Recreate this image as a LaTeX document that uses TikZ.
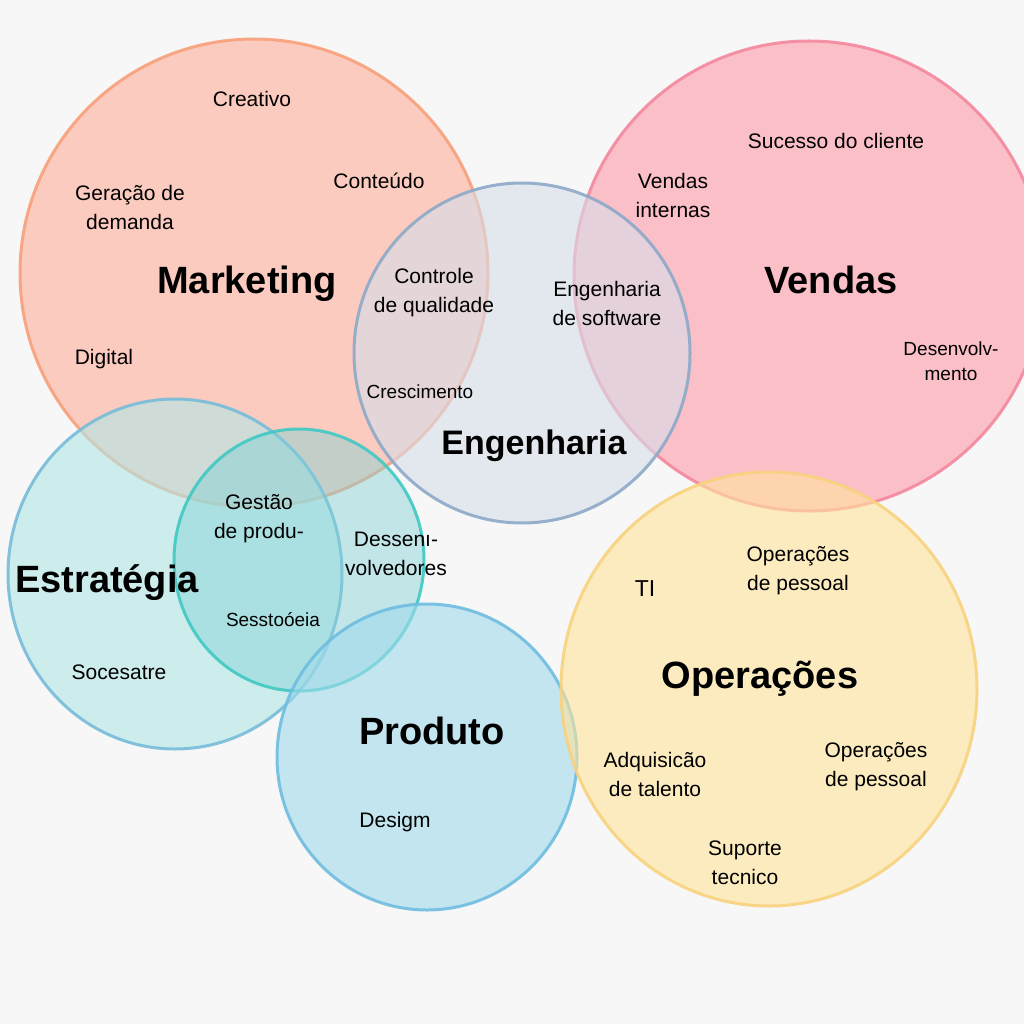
\documentclass[tikz,border=0pt]{standalone}
\usepackage{fontspec}
\setmainfont{Liberation Sans}
\definecolor{bgc}{HTML}{F7F7F7}
\definecolor{mkf}{RGB}{255,174,154}\definecolor{mks}{HTML}{F9A07A}
\definecolor{vdf}{RGB}{255,154,170}\definecolor{vds}{HTML}{F4889E}
\definecolor{enf}{RGB}{214,222,234}\definecolor{ens}{HTML}{8DA9C8}
\definecolor{esf}{RGB}{177,230,230}\definecolor{ess}{HTML}{77BCDA}
\definecolor{tqf}{RGB}{130,210,214}\definecolor{tqs}{HTML}{40C9C3}
\definecolor{prf}{RGB}{160,218,235}\definecolor{prs}{HTML}{6FBDE0}
\definecolor{opf}{RGB}{255,227,155}\definecolor{ops}{HTML}{F8D27E}
\tikzset{
  venn/.style={line width=3pt, fill opacity=0.6, draw opacity=0.9},
  lbl/.style={text=black, align=center, font=\fontsize{21}{29}\selectfont, inner sep=0pt},
  sml/.style={text=black, align=center, font=\fontsize{19}{25}\selectfont, inner sep=0pt},
  ttl/.style={text=black, align=center, font=\fontsize{38}{40}\selectfont\bfseries, inner sep=0pt}
}
\begin{document}
\begin{tikzpicture}[x=1pt,y=-1pt]
\useasboundingbox (0,0) rectangle (1024,1024);
\fill[bgc] (0,0) rectangle (1024,1024);
\clip (0,0) rectangle (1024,1024);
% circles
\draw[venn, draw=mks, fill=mkf] (254,273) circle[radius=234];
\draw[venn, draw=vds, fill=vdf] (809,276) circle[radius=235];
\draw[venn, draw=ens, fill=enf] (522,353) ellipse[x radius=168, y radius=170];
\draw[venn, draw=ess, fill=esf] (175,574) ellipse[x radius=167, y radius=175];
\draw[venn, draw=tqs, fill=tqf, fill opacity=0.45] (299,560) ellipse[x radius=125, y radius=131];
\draw[venn, draw=prs, fill=prf] (427,757) ellipse[x radius=150, y radius=153];
\draw[venn, draw=ops, fill=opf] (769,689) ellipse[x radius=208, y radius=217];
% Marketing
\node[lbl] (creativo) at (252,99) {Creativo};
\node[lbl] (geracao) at (130,207) {Geração de\\demanda};
\node[lbl] (conteudo) at (379,181) {Conteúdo};
\node[ttl] (marketing) at (247,284) {Marketing};
\node[lbl] (digital) at (104,359) {Digital};
\node[lbl] (controle) at (434,293) {Controle\\de qualidade};
\node[sml] (crescimento) at (420,392) {Crescimento};
% Engenharia
\node[ttl, font=\fontsize{34}{38}\selectfont\bfseries] (engenharia) at (534,446) {Engenharia};
\node[lbl] (engsoft) at (607,303) {Engenharia\\de software};
% Vendas
\node[lbl] (vint) at (673,195) {Vendas\\internas};
\node[lbl] (sucesso) at (836,141) {Sucesso do cliente};
\node[ttl] (vendas) at (831,280) {Vendas};
\node[sml] (desenv) at (951,361) {Desenvolv-\\mento};
% Estrategia
\node[lbl] (gestao) at (259,519) {Gestão\\de produ-};
\node[lbl] (dessen) at (396,554) {Dessenı-\\volvedores};
\node[ttl] (estrategia) at (107,583) {Estratégia};
\node[sml] (sesst) at (273,620) {Sesstoóeia};
\node[lbl] (socesatre) at (119,672) {Socesatre};
% Produto
\node[ttl] (produto) at (432,731) {Produto};
\node[lbl] (desigm) at (395,822) {Desigm};
% Operacoes
\node[lbl] (oppes1) at (798,571) {Operações\\de pessoal};
\node[lbl, font=\fontsize{23}{29}\selectfont] (ti) at (645,589) {TI};
\node[ttl] (operacoes) at (760,679) {Operações};
\node[lbl] (adq) at (655,774) {Adquisicão\\de talento};
\node[lbl] (oppes2) at (876,767) {Operações\\de pessoal};
\node[lbl] (suporte) at (745,863) {Suporte\\tecnico};
\end{tikzpicture}
\end{document}
